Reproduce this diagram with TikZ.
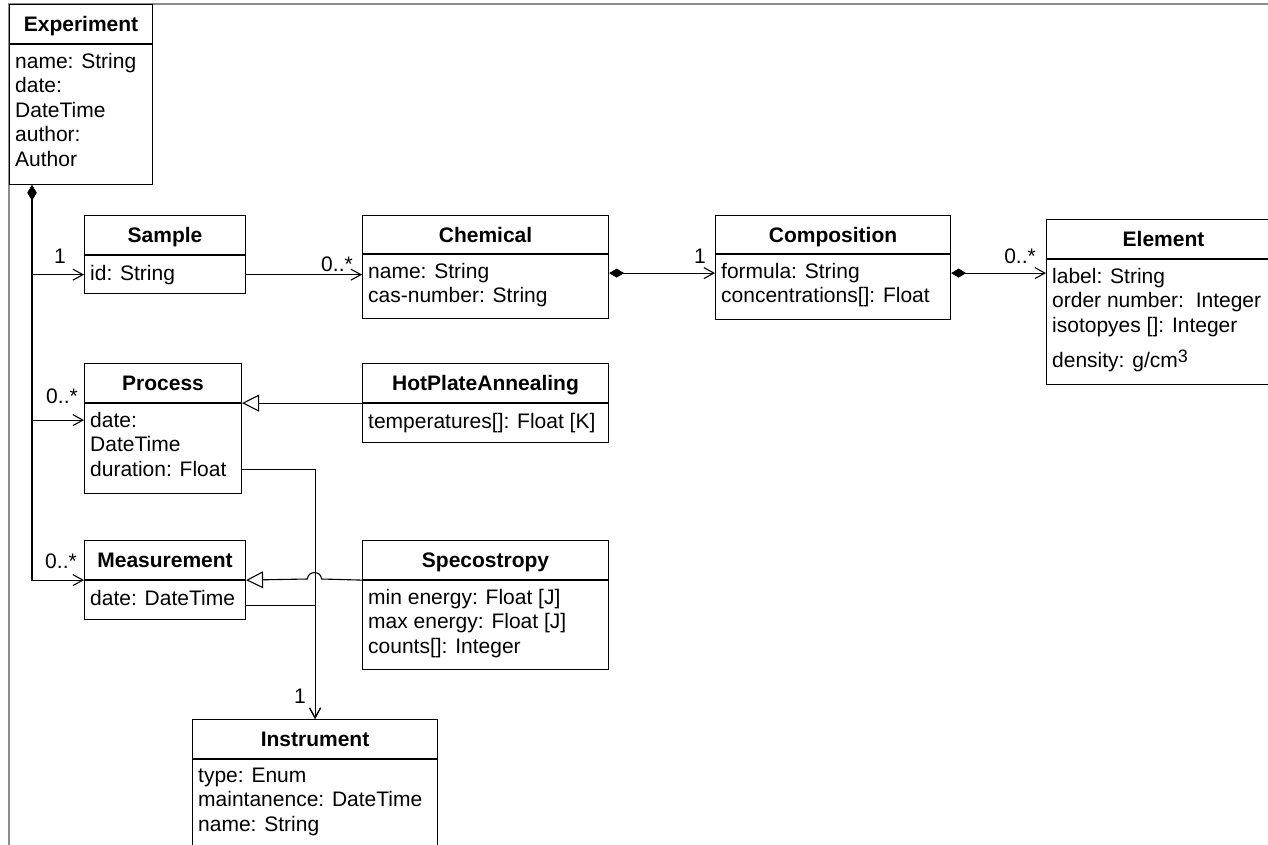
\documentclass[tikz,border=0pt]{standalone}
\usepackage{fontspec}
\setmainfont{Liberation Sans}
\usetikzlibrary{arrows.meta,calc}

\tikzset{
  uml/.style={draw=black, line width=1.1pt, fill=white},
  classhead/.style={uml, anchor=north west, inner sep=0pt, text height=15pt, text depth=0pt,
    font=\fontsize{21pt}{24.5pt}\selectfont\bfseries},
  classbody/.style={uml, anchor=north west, inner sep=0pt},
  attrs/.style={anchor=north west, inner sep=0pt, align=left,
    font=\fontsize{21pt}{24.5pt}\selectfont, execute at begin node=\strut},
  mult/.style={anchor=base, inner sep=0pt, font=\fontsize{21pt}{24.5pt}\selectfont},
  link/.style={draw=black, line width=1.1pt},
  assoc/.style={link, -{Straight Barb[length=10pt,width=11pt]}},
  compo/.style={link, {Diamond[length=15pt,width=9pt]}-{Straight Barb[length=10pt,width=11pt]}},
  gen/.style={link, -{Triangle[open,length=17pt,width=17pt,fill=white]}},
  pageframe/.style={draw=black!45, line width=1.2pt},
}

% #1 name, #2 left, #3 top, #4 divider, #5 bottom, #6 right, #7 title, #8 attributes
\newcommand\umlclass[8]{%
  \node[classhead, minimum width={(#6-#2)*1pt}, minimum height={(#4-#3)*1pt}] (#1-h) at (#2,#3) {#7};
  \node[classbody, minimum width={(#6-#2)*1pt}, minimum height={(#5-#4)*1pt}] (#1-b) at (#1-h.south west) {};
  \node[attrs] (#1-t) at ($(#1-b.north west)+(6,8.5)$) {#8};
}

\begin{document}
\begin{tikzpicture}[x=1pt,y=-1pt]
\useasboundingbox (0,0) rectangle (1268,845);

% page border
\draw[pageframe] (9,845) -- (9,4) -- (1268,4);

% classes
\umlclass{exp}{9}{4}{43}{183}{152}{Experiment}{name: String\\date:\\DateTime\\author:\\Author}
\umlclass{samp}{84}{215}{254}{292}{245}{Sample}{id: String}
\umlclass{chem}{362}{215}{253}{317}{608}{Chemical}{name: String\\cas-number: String}
\umlclass{comp}{715}{215}{253}{318}{950}{Composition}{formula: String\\concentrations[]: Float}
\umlclass{elem}{1046}{219}{258}{383}{1280}{Element}{label: String\\order number:\ \ Integer\\isotopyes []: Integer\\[11pt]density: g/cm\raisebox{5pt}{\fontsize{18pt}{18pt}\selectfont 3}}
\umlclass{proc}{84}{363}{402}{492}{241}{Process}{date:\\DateTime\\duration: Float}
\umlclass{hot}{362}{363}{402}{441}{608}{HotPlateAnnealing}{temperatures[]: Float [K]}
\umlclass{meas}{84}{540}{579}{618}{245}{Measurement}{date: DateTime}
\umlclass{spec}{362}{540}{579}{668}{608}{Specostropy}{min energy: Float [J]\\max energy: Float [J]\\counts[]: Integer}
\umlclass{inst}{192}{719}{758}{870}{437}{Instrument}{type: Enum\\maintanence: DateTime\\name: String}

% composition links from Experiment
\coordinate (expsrc) at ($(exp-b.south west)+(23,0)$);
\draw[compo] (expsrc) |- (samp-b.west);
\draw[compo] (expsrc) |- ($(proc-h.south west)+(0,17)$);
\draw[compo] (expsrc) |- (meas-h.south west);

% associations along the top row
\draw[assoc] (samp-b.east) -- (samp-b.east -| chem-b.west);
\coordinate (chemsrc) at ($(chem-h.south east)+(0,19)$);
\draw[compo] (chemsrc) -- (chemsrc -| comp-b.west);
\coordinate (compsrc) at ($(comp-h.south east)+(0,19)$);
\draw[compo] (compsrc) -- (compsrc -| elem-b.west);

% links to Instrument
\draw[assoc] ($(proc-b.south east)+(0,-25)$) -| (inst-h.north);
\draw[assoc] ($(meas-b.east)+(0,5.5)$) -| (inst-h.north);

% generalizations
\draw[gen] (hot-h.south west) -- (proc-h.south east);
\draw[gen] (spec-h.south west) -- (321.5,579) .. controls (321.5,570.5) and (307.5,570.5) .. (307.5,579) -- (meas-h.south east);

% multiplicities
\node[mult] (m-samp) at (60,263) {1};
\node[mult] (m-chem) at (337,271) {0..*};
\node[mult] (m-comp) at (700,263) {1};
\node[mult] (m-elem) at (1020,263) {0..*};
\node[mult] (m-proc) at (62,403) {0..*};
\node[mult] (m-meas) at (61,568) {0..*};
\node[mult] (m-inst) at (300,703) {1};
\end{tikzpicture}
\end{document}
